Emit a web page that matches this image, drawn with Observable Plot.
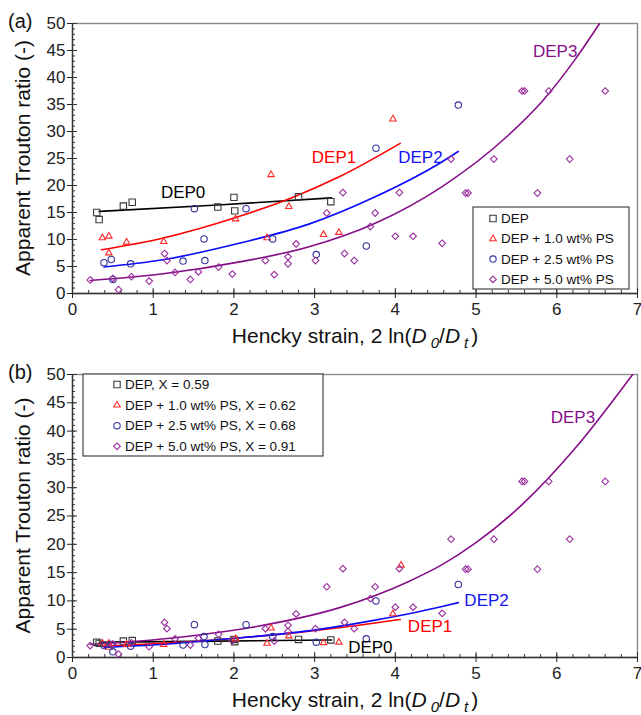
<!DOCTYPE html>
<html><head><meta charset="utf-8">
<script src="https://cdn.jsdelivr.net/npm/d3@7"></script>
<script src="https://cdn.jsdelivr.net/npm/@observablehq/plot@0.6"></script>
<style>
body{margin:0;background:#fff;font-family:"Liberation Sans",Arial,sans-serif;}
#chart{width:641px;height:715px;position:relative;overflow:hidden}
#chart svg{display:block;overflow:visible}
</style></head><body><div id="chart"></div>
<script>
// ---------- data ----------
const seriesNamesA = ["DEP", "DEP + 1.0 wt% PS", "DEP + 2.5 wt% PS", "DEP + 5.0 wt% PS"];
const seriesNamesB = ["DEP, X = 0.59", "DEP + 1.0 wt% PS, X = 0.62", "DEP + 2.5 wt% PS, X = 0.68", "DEP + 5.0 wt% PS, X = 0.91"];
const curveNames = ["DEP0", "DEP1", "DEP2", "DEP3"];

const xTicks = [0, 1, 2, 3, 4, 5, 6, 7];
const yTicks = [0, 5, 10, 15, 20, 25, 30, 35, 40, 45, 50];

// DEP (squares)
const depX  = [0.30, 0.33, 0.63, 0.74, 1.80, 2.00, 2.01, 2.80, 3.20];
const depYa = [15.0, 13.7, 16.2, 16.9, 16.0, 17.8, 15.3, 17.9, 17.0];
const depYb = [2.7, 2.5, 2.9, 3.0, 2.9, 3.2, 2.8, 3.2, 3.1];

// DEP + 1.0 wt% PS (triangles)
const ps10Xa = [0.37, 0.45, 0.45, 0.67, 1.13, 2.02, 2.41, 2.46, 2.68, 3.11, 3.30, 3.97];
const ps10Ya = [10.3, 10.6, 7.5, 9.5, 9.6, 13.8, 10.3, 22.0, 16.1, 10.9, 11.3, 32.3];
const ps10Xb = [0.37, 0.45, 0.45, 0.67, 1.13, 2.02, 2.41, 2.46, 2.68, 3.11, 3.30, 3.97, 4.07];
const ps10Yb = [2.5, 2.5, 1.8, 2.3, 2.3, 3.3, 2.5, 5.2, 3.8, 2.6, 2.7, 7.7, 16.3];

// DEP + 2.5 wt% PS (circles)
const ps25X  = [0.39, 0.48, 0.50, 0.72, 1.37, 1.51, 1.63, 1.64, 2.15, 2.48, 3.02, 3.64, 3.76, 4.78];
const ps25Ya = [5.7, 6.3, 2.6, 5.5, 6.0, 15.7, 10.1, 6.1, 15.7, 10.1, 7.2, 8.8, 26.9, 34.9];
const ps25Yb = [2.1, 2.3, 1.0, 2.0, 2.2, 5.8, 3.7, 2.3, 5.8, 3.7, 2.7, 3.3, 10.0, 12.9];

// DEP + 5.0 wt% PS (diamonds)
const ps50X  = [0.22, 0.50, 0.57, 0.73, 0.95, 1.14, 1.17, 1.27, 1.46, 1.56, 1.81, 1.98, 2.39, 2.50, 2.67, 2.67, 2.77, 3.01, 3.15, 3.35, 3.37, 3.49, 3.69, 3.75, 4.00, 4.05, 4.22, 4.58, 4.69, 4.87, 4.90, 5.22, 5.57, 5.60, 5.76, 5.90, 6.16, 6.60];
const ps50Ya = [2.5, 2.8, 0.7, 3.1, 2.3, 7.4, 6.1, 3.9, 2.6, 4.0, 4.9, 3.6, 6.1, 3.5, 6.8, 5.5, 9.2, 6.1, 14.9, 18.7, 7.4, 6.1, 12.4, 14.9, 10.6, 18.7, 10.6, 9.3, 24.9, 18.6, 18.6, 24.9, 37.5, 37.5, 18.6, 37.5, 24.9, 37.5];
const ps50Yb = [2.1, 2.4, 0.6, 2.6, 1.9, 6.2, 5.1, 3.3, 2.2, 3.4, 4.1, 3.0, 5.1, 2.9, 5.7, 4.6, 7.7, 5.1, 12.5, 15.7, 6.2, 5.1, 10.4, 12.5, 8.9, 15.7, 8.9, 7.8, 20.9, 15.6, 15.6, 20.9, 31.1, 31.1, 15.6, 31.1, 20.9, 31.1];

// fitted curves
const fit0Xa = [0.33, 1.80, 3.21];
const fit0Ya = [15.2, 16.4, 17.7];
const fit1Xa = [0.36, 1.10, 2.09, 2.71, 3.33, 4.06];
const fit1Ya = [8.1, 10.2, 14.4, 17.7, 21.8, 27.8];
const fit2Xa = [0.39, 1.10, 2.09, 2.92, 3.75, 4.58, 4.78];
const fit2Ya = [4.9, 6.2, 9.4, 12.8, 17.9, 24.4, 26.3];
const fit3Xa = [0.22, 1.10, 2.09, 2.92, 3.75, 4.58, 5.40, 5.82, 6.23, 6.53];
const fit3Ya = [2.4, 3.6, 5.9, 8.6, 13.0, 19.8, 29.3, 35.6, 43.4, 50.0];

const fit0Xb = [0.33, 1.80, 3.21];
const fit0Yb = [2.7, 2.9, 3.1];
const fit1Xb = [0.36, 1.10, 2.09, 2.71, 3.33, 4.06];
const fit1Yb = [2.0, 2.5, 3.5, 4.3, 5.3, 6.7];
const fit2Xb = [0.39, 1.10, 2.09, 2.92, 3.75, 4.58, 4.78];
const fit2Yb = [1.8, 2.3, 3.5, 4.7, 6.6, 9.0, 9.7];
const fit3Xb = [0.22, 1.27, 2.21, 3.33, 4.16, 4.58, 4.99, 5.57, 6.23, 6.94];
const fit3Yb = [2.3, 3.5, 5.3, 8.9, 13.4, 16.4, 20.2, 27.0, 37.0, 50.0];

// curve label positions (data units)
const labelXa = [1.37, 3.24, 4.31, 5.98];
const labelYa = [18.7, 25.2, 25.2, 44.8];
const labelXb = [3.69, 4.43, 5.13, 6.20];
const labelYb = [1.7, 5.5, 10.1, 42.4];

// ---------- styles ----------
const symbols = ["square", "triangle2", "circle", "diamond2"];
const d3Symbols = [d3.symbolSquare, d3.symbolTriangle2, d3.symbolCircle, d3.symbolDiamond2];
const symR = [3.6, 3.1, 3.2, 3.0];
const markColors = ["#3a3a3a", "#ff2a2a", "#35359c", "#9a2e9e"];
const lineColors = ["#000000", "#ff0000", "#0a0aff", "#850f87"];
const labelColors = ["#000000", "#ff0000", "#1414f0", "#850f87"];
const FONT = "'Liberation Sans', Arial, sans-serif";

const xMinor = d3.range(0, 36).map(i => +(i * 0.2).toFixed(1));
const yMinor = d3.range(0, 51);

const zip = (xs, ys) => xs.map((x, i) => ({x, y: ys[i]}));

function panel({H, mt, mb, pts, fits, labX, labY}) {
  const marks = [
    Plot.frame({stroke: "#8c8c8c", strokeWidth: 1.4}),
    Plot.ruleX([0], {stroke: "#333", strokeWidth: 1.3}),
    Plot.ruleY([0], {stroke: "#333", strokeWidth: 1.3}),
    Plot.axisX(xMinor, {tickSize: 3, dy: -3, tickFormat: () => "", label: null, color: "#333"}),
    Plot.axisX(xTicks, {tickSize: 5, dy: -5, tickFormat: () => "", label: null, color: "#333"}),
    Plot.axisX(xTicks, {tickSize: 5, tickPadding: 4, fontSize: 17, label: null, color: "#222"}),
    Plot.axisY(yMinor, {tickSize: 3, dx: 3, tickFormat: () => "", label: null, color: "#333"}),
    Plot.axisY(yTicks, {tickSize: 5, dx: 5, tickFormat: () => "", label: null, color: "#333"}),
    Plot.axisY(yTicks, {tickSize: 5, tickPadding: 2, fontSize: 17, label: null, color: "#222"})
  ];
  fits.forEach((f, i) => marks.push(Plot.line(f, {x: "x", y: "y", stroke: lineColors[i], strokeWidth: 1.6, curve: "monotone-x", clip: true})));
  pts.forEach((p, i) => marks.push(Plot.dot(p, {x: "x", y: "y", symbol: symbols[i], r: symR[i], stroke: markColors[i], strokeWidth: 1.1, fill: "none"})));
  const labs = curveNames.map((t, i) => ({t, x: labX[i], y: labY[i], c: labelColors[i]}));
  marks.push(Plot.text(labs, {x: "x", y: "y", text: "t", fill: "c", fontSize: 17}));
  return Plot.plot({
    width: 641, height: H,
    marginLeft: 72, marginRight: 4, marginTop: mt, marginBottom: mb,
    x: {domain: [0, 7], label: null},
    y: {domain: [0, 50], label: null},
    color: {type: "identity"},
    style: {fontFamily: FONT, background: "white", color: "#222"},
    marks
  });
}

function decorate(svg, {plotTop, plotBottom, tag, legendNames, legend}) {
  const s = d3.select(svg);
  s.append("text").attr("x", 8).attr("y", plotTop + 5).attr("text-anchor", "start")
    .style("font-size", "20px").style("font-family", FONT).attr("fill", "#111").text(tag);
  const cy = (plotTop + plotBottom) / 2;
  s.append("text").attr("transform", `translate(22,${cy}) rotate(-90)`)
    .attr("text-anchor", "middle").attr("dominant-baseline", "central")
    .style("font-size", "21px").style("font-family", FONT).attr("fill", "#111")
    .text("Apparent Trouton ratio (-)");
  const xl = s.append("text").attr("x", 355).attr("y", plotBottom + 50)
    .attr("text-anchor", "middle").style("font-size", "21px").style("font-family", FONT).attr("fill", "#111");
  xl.append("tspan").text("Hencky strain, 2 ln(");
  xl.append("tspan").attr("font-style", "italic").text("D");
  xl.append("tspan").attr("font-style", "italic").attr("font-size", "15px").attr("dx", 4).attr("dy", 5).text("0");
  xl.append("tspan").attr("dy", -5).text("/");
  xl.append("tspan").attr("font-style", "italic").text("D");
  xl.append("tspan").attr("font-style", "italic").attr("font-size", "15px").attr("dx", 4).attr("dy", 5).text("t");
  xl.append("tspan").attr("dx", 3).attr("dy", -5).text(")");
  // legend
  const g = s.append("g");
  g.append("rect").attr("x", legend.x).attr("y", legend.y).attr("width", legend.w).attr("height", legend.h)
    .attr("fill", "white").attr("stroke", "#333").attr("stroke-width", 1.1);
  legendNames.forEach((name, i) => {
    const yy = legend.y + legend.first + i * legend.step;
    g.append("path").attr("d", d3.symbol(d3Symbols[i], Math.PI * symR[i] * symR[i])())
      .attr("transform", `translate(${legend.sx},${yy})`)
      .attr("fill", "none").attr("stroke", markColors[i]).attr("stroke-width", 1.1);
    g.append("text").attr("x", legend.sx + 8).attr("y", yy).attr("dominant-baseline", "central")
      .attr("text-anchor", "start")
      .style("font-size", "13.5px").style("font-family", FONT).attr("fill", "#111").text(name);
  });
}

const svgA = panel({
  H: 345, mt: 23, mb: 52,
  pts: [zip(depX, depYa), zip(ps10Xa, ps10Ya), zip(ps25X, ps25Ya), zip(ps50X, ps50Ya)],
  fits: [zip(fit0Xa, fit0Ya), zip(fit1Xa, fit1Ya), zip(fit2Xa, fit2Ya), zip(fit3Xa, fit3Ya)],
  labX: labelXa, labY: labelYa
});
decorate(svgA, {plotTop: 23, plotBottom: 293, tag: "(a)", legendNames: seriesNamesA,
  legend: {x: 473, y: 207, w: 156, h: 82, first: 11.5, step: 20.3, sx: 493}});

const svgB = panel({
  H: 370, mt: 29, mb: 58,
  pts: [zip(depX, depYb), zip(ps10Xb, ps10Yb), zip(ps25X, ps25Yb), zip(ps50X, ps50Yb)],
  fits: [zip(fit0Xb, fit0Yb), zip(fit1Xb, fit1Yb), zip(fit2Xb, fit2Yb), zip(fit3Xb, fit3Yb)],
  labX: labelXb, labY: labelYb
});
decorate(svgB, {plotTop: 29, plotBottom: 312, tag: "(b)", legendNames: seriesNamesB,
  legend: {x: 83, y: 29, w: 240, h: 82, first: 10.5, step: 20.6, sx: 117}});

document.getElementById("chart").append(svgA, svgB);
</script>
</body></html>
